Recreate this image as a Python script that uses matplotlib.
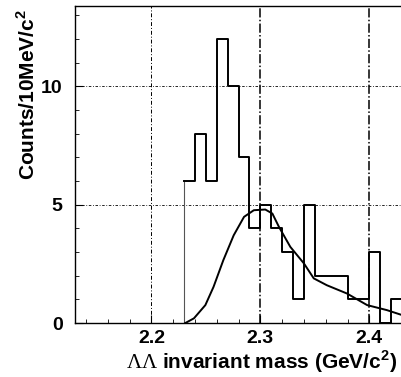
import matplotlib
matplotlib.use('Agg')
import matplotlib.pyplot as plt
import numpy as np
from matplotlib.ticker import MultipleLocator

# histogram of LL invariant mass, 10 MeV bins
bin_edges = [2.23, 2.24, 2.25, 2.26, 2.27, 2.28, 2.29, 2.30, 2.31, 2.32,
             2.33, 2.34, 2.35, 2.36, 2.37, 2.38, 2.39, 2.40, 2.41, 2.42, 2.43]
counts = [6, 8, 6, 12, 10, 7, 4, 5, 4, 3, 1, 5, 2, 2, 2, 1, 1, 3, 0, 1]

# smooth curve
curve_x = [2.231, 2.239, 2.2495, 2.257, 2.266, 2.2755, 2.285, 2.294, 2.3045,
           2.311, 2.317, 2.3275, 2.340, 2.349, 2.361, 2.3795, 2.398, 2.416,
           2.430]
curve_y = [0.0, 0.2, 0.76, 1.53, 2.66, 3.71, 4.49, 4.77, 4.80, 4.63, 4.07,
           3.22, 2.52, 1.89, 1.60, 1.25, 0.76, 0.55, 0.34]

plt.rcParams['font.family'] = ['Liberation Sans', 'DejaVu Sans']
plt.rcParams['mathtext.fontset'] = 'custom'
plt.rcParams['mathtext.rm'] = 'Liberation Serif'
plt.rcParams['mathtext.bf'] = 'Liberation Sans:bold'

fig = plt.figure(figsize=(4.02, 3.77), dpi=100)
ax = fig.add_axes([0.187, 0.143, 0.813, 0.841])

# step outline of the histogram
edges = np.array(bin_edges)
vals = np.array(counts)
sx = np.repeat(edges, 2)
sy = np.concatenate([[0], np.repeat(vals, 2), [0]])
ax.plot(sx[:2], sy[:2], color='#555555', lw=0.8)
ax.plot(sx[1:-1], sy[1:-1], color='black', lw=1.4)

ax.plot(curve_x, curve_y, color='black', lw=1.4)

# grid lines
ax.axvline(2.2, color='black', lw=0.7, ls=(0, (4, 2, 1, 2)), zorder=0)
for gx in [2.3, 2.4]:
    ax.axvline(gx, color='black', lw=1.1, ls=(0, (6, 1.5, 1, 1.5)), zorder=0)
for gy in [5, 10]:
    ax.axhline(gy, color='black', lw=0.6, ls=(0, (3, 2, 1, 2)), zorder=0)

ax.set_xlim(2.13, 2.43)
ax.set_ylim(0, 13.4)
ax.set_xticks([2.2, 2.3, 2.4])
ax.set_yticks([0, 5, 10])
ax.xaxis.set_minor_locator(MultipleLocator(0.02))
ax.yaxis.set_minor_locator(MultipleLocator(1))
ax.tick_params(which='both', direction='in', top=False, right=False)
ax.tick_params(which='major', length=6, labelsize=14)
ax.tick_params(axis='x', which='major', pad=5)
ax.tick_params(axis='y', which='major', pad=9)
ax.tick_params(which='minor', length=3)
for lab in ax.get_xticklabels() + ax.get_yticklabels():
    lab.set_fontweight('bold')

ax.spines['right'].set_visible(False)
for s in ['left', 'bottom', 'top']:
    ax.spines[s].set_linewidth(1.0)

fig.text(28 / 402, 1 - 95 / 377, 'Counts/10MeV/c$^\\mathbf{2}$',
         rotation=90, ha='center', va='center', fontsize=15,
         fontweight='bold')
fig.text(262 / 402, 1 - 362 / 377,
         '$\\Lambda\\Lambda$ invariant mass (GeV/c$^\\mathbf{2}$)',
         ha='center', va='center', fontsize=15, fontweight='bold')

fig.savefig('out.png', dpi=100)
